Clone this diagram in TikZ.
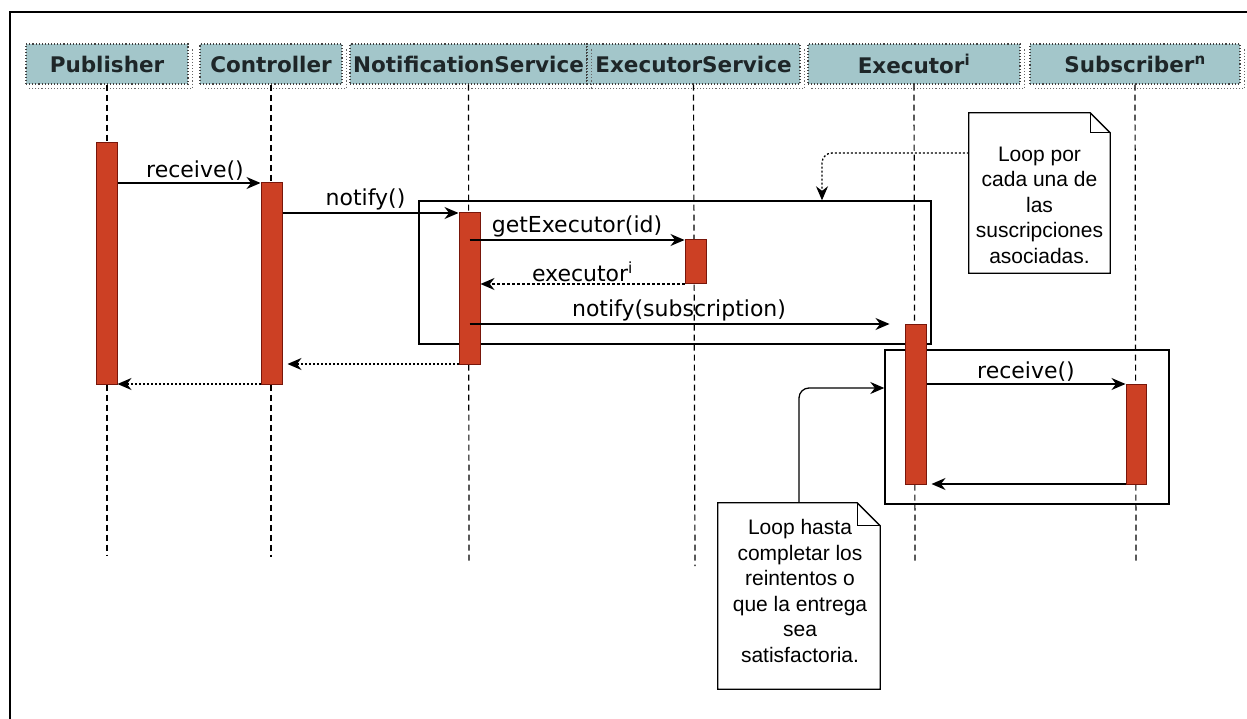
\documentclass[tikz,border=0pt]{standalone}
\usepackage{fontspec}
\setmainfont{DejaVu Sans}
\newfontfamily\notefont{Liberation Sans}
\usetikzlibrary{arrows.meta,calc}
\definecolor{hdrfill}{RGB}{163,198,202}
\definecolor{hdrtext}{RGB}{30,38,40}
\definecolor{barfill}{RGB}{204,64,36}
\definecolor{barline}{RGB}{120,22,10}
\begin{document}
\begin{tikzpicture}[x=1pt,y=-1pt,
  hdr/.style={draw=black!75, dotted, line width=1.1pt, fill=hdrfill, minimum height=40pt, inner sep=0pt,
    font=\fontsize{21.5}{24}\selectfont\bfseries, text=hdrtext},
  hshadow/.style={draw=black!60, dotted, line width=1.1pt},
  life/.style={draw=black, line width=1.2pt, dash pattern=on 6pt off 4pt},
  bar/.style={draw=barline, fill=barfill, line width=1pt, minimum width=21pt, inner sep=0pt},
  loopbox/.style={draw=black, line width=1.4pt, inner sep=0pt},
  msg/.style={draw=black, line width=1.3pt, -{Stealth[length=14pt,width=12pt]}},
  ret/.style={msg, dash pattern=on 2pt off 2pt},
  lbl/.style={font=\fontsize{22}{24}\selectfont, inner sep=2pt, text=black},
  noteframe/.style={minimum width=#1, inner sep=0pt},
  noteline/.style={draw=black, line width=1.3pt, fill=white},
  notetxt/.style={font=\notefont\fontsize{21}{25.5}\selectfont, align=center, inner sep=0pt}
]
\useasboundingbox (0,0) rectangle (1247,719);
\fill[white] (0,0) rectangle (1247,719);
% outer frame
\draw[line width=2pt] (10,719) -- (10,12) -- (1247,12);

% headers
\node[hdr, minimum width=162pt] (hPub) at (107,64) {Publisher};
\node[hdr, minimum width=142pt] (hCtr) at (271,64) {Controller};
\node[hdr, minimum width=237pt] (hNS)  at (468.5,64) {NotificationService};
\node[hdr, minimum width=213pt] (hES)  at (693.5,64) {ExecutorService};
\node[hdr, minimum width=212pt] (hEx)  at (914,64) {Executor\textsuperscript{i}};
\node[hdr, minimum width=210pt] (hSub) at (1135,64) {Subscriber\textsuperscript{n}};
\foreach \h in {hPub,hCtr,hNS,hES,hEx,hSub}{
  \draw[hshadow] ($(\h.north east)+(4,6)$) -- ($(\h.south east)+(4,4)$) -- ($(\h.south west)+(4,4)$);
}

% lifeline ends
\coordinate (ePub) at (107,556);
\coordinate (eCtr) at (271,557);
\coordinate (eNS)  at (469,562);
\coordinate (eES)  at (695,566);
\coordinate (eEx)  at (915,562);
\coordinate (eSub) at (1136,562);
\draw[life] (hPub.south) -- (ePub);
\draw[life] (hCtr.south) -- (eCtr);
\draw[life] (hNS.south) -- (eNS);
\draw[life] (hES.south) -- (eES);
\draw[life] (hEx.south) -- (eEx);
\draw[life] (hSub.south) -- (eSub);

% loop boxes
\node[loopbox, minimum width=512pt, minimum height=143pt] (loop1) at (675,272.5) {};
\node[loopbox, minimum width=284pt, minimum height=154pt] (loop2) at (1027,427) {};

% activation bars
\node[bar, minimum height=241pt] (aPub) at (106.5,263.5) {};
\node[bar, minimum height=201pt] (aCtr) at (271.5,283.5) {};
\node[bar, minimum height=151pt] (aNS)  at (469.5,288.5) {};
\node[bar, minimum height=44pt]  (aES)  at (695.5,262) {};
\node[bar, minimum height=160pt] (aEx)  at (915.5,404) {};
\node[bar, minimum height=100pt, minimum width=20pt] (aSub) at (1136,434) {};

% message levels
\coordinate (m1) at (0,183);
\coordinate (m2) at (0,213);
\coordinate (m3) at (0,240);
\coordinate (m4) at (0,284);
\coordinate (m5) at (0,324);
\coordinate (m6) at (0,364);
\coordinate (m7) at (0,384);
\coordinate (m9) at (0,484);

\draw[msg] (aPub.east |- m1) -- node[lbl, above, xshift=6pt] {receive()} (aCtr.west |- m1);
\draw[msg] (aCtr.east |- m2) -- node[lbl, above, xshift=-5pt] {notify()} (aNS.west |- m2);
\draw[msg] (aNS.center |- m3) -- node[lbl, above] {getExecutor(id)} (aES.west |- m3);
\draw[ret, dash pattern=on 3pt off 2pt] (aES.west |- m4) -- node[lbl, above] {executor\textsuperscript{i}} (aNS.east |- m4);
\draw[msg, shorten >=15pt] (aNS.center |- m5) -- node[lbl, above, xshift=-8pt] {notify(subscription)} (aEx.west |- m5);
\draw[ret, shorten >=5pt] (aNS.west |- m6) -- (aCtr.east |- m6);
\draw[ret] (aCtr.west |- m7) -- (aPub.east |- m7);
\draw[msg] (aEx.east |- m7) -- node[lbl, above] {receive()} (aSub.west |- m7);
\draw[msg, shorten >=5pt] (aSub.west |- m9) -- (aEx.east |- m9);

% note 1
\node[noteframe=141pt, minimum height=160pt] (note1) at (1039.5,193) {};
\draw[noteline] (note1.north west) -- ($(note1.north east)+(-20,0)$) -- ($(note1.north east)+(0,20)$)
  -- (note1.south east) -- (note1.south west) -- cycle;
\draw[noteline, fill=none] ($(note1.north east)+(-20,0)$) |- ($(note1.north east)+(0,20)$);
\node[notetxt] (t1) at ($(note1.center)+(0,12)$) {Loop por\\cada una de\\las\\suscripciones\\asociadas.};

% note 2
\node[noteframe=162pt, minimum height=186pt] (note2) at (799,596) {};
\draw[noteline] (note2.north west) -- ($(note2.north east)+(-23,0)$) -- ($(note2.north east)+(0,23)$)
  -- (note2.south east) -- (note2.south west) -- cycle;
\draw[noteline, fill=none] ($(note2.north east)+(-23,0)$) |- ($(note2.north east)+(0,23)$);
\node[notetxt] (t2) at ($(note2.center)+(1,-5)$) {Loop hasta\\completar los\\reintentos o\\que la entrega\\sea\\satisfactoria.};

% note connectors
\coordinate (c1) at (822,153);
\draw[msg, dash pattern=on 2pt off 2pt, rounded corners=10pt] (note1.west |- c1) -| (loop1.north -| c1);
\coordinate (c2) at (799,388);
\draw[msg, rounded corners=10pt] (note2.north) |- (loop2.west |- c2);
\end{tikzpicture}
\end{document}
